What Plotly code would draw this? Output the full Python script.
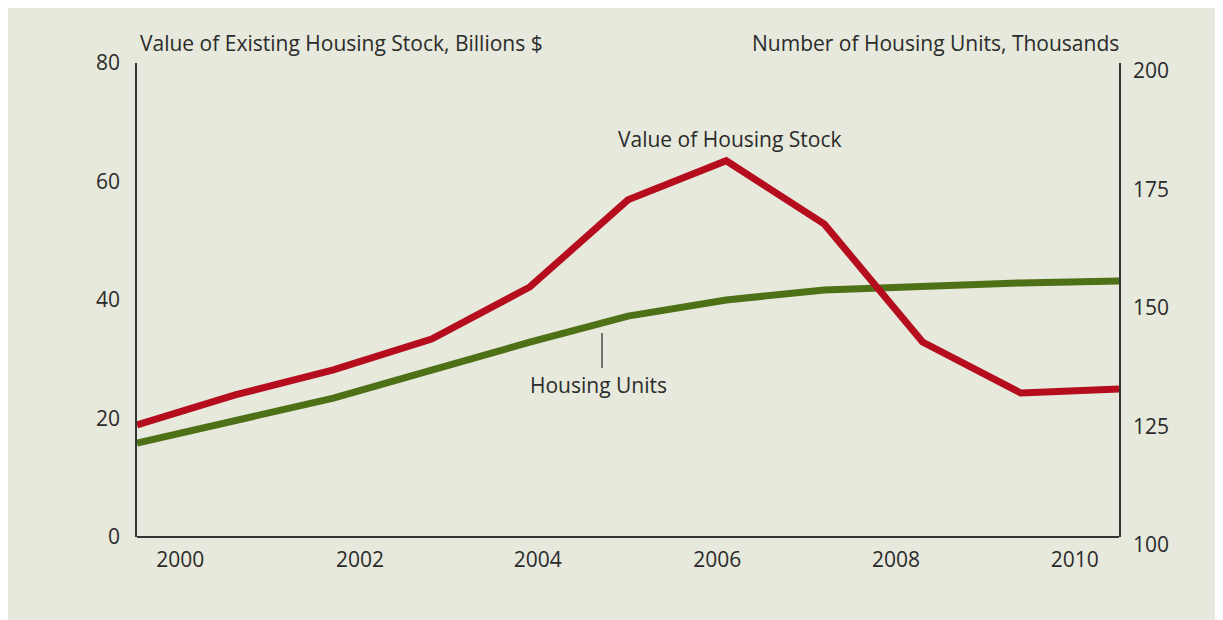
import plotly.graph_objects as go

# ---- data ----
years = [2000, 2001, 2002, 2003, 2004, 2005, 2006, 2007, 2008, 2009, 2010]
stock_value = [18.9, 24.0, 28.2, 33.4, 42.2, 56.9, 63.5, 52.8, 32.9, 24.3, 25.0]
housing_units = [121.5, 126.2, 131.0, 136.9, 142.8, 148.3, 151.7, 153.8, 154.6, 155.3, 155.7]
x_tick_labels = ["2000", "2002", "2004", "2006", "2008", "2010"]
x_tick_pos = [2000.44, 2002.27, 2004.08, 2005.91, 2007.73, 2009.55]
left_ticks = [0, 20, 40, 60, 80]
right_ticks = [100, 125, 150, 175, 200]

OFF = 8  # page offset of the figure (body margin)
W, H = 1208, 612
ML, MR, MT, MB = 129, 97, 55, 75
PW, PH = W - ML - MR, H - MT - MB

def px(x):  # page pixel -> paper fraction
    return (x - OFF - ML) / PW

def py(y):
    return (H - MB - (y - OFF)) / PH

PANEL = "#E6E9DC"
TEXT = "#2b2b2b"
FONT = "Open Sans"
FS = 21

fig = go.Figure()
# green first (drawn underneath), red on top
fig.add_trace(go.Scatter(x=years, y=housing_units, mode="lines",
                         line=dict(color="#4E7016", width=7),
                         xaxis="x", yaxis="y", hoverinfo="x+y"))
fig.add_trace(go.Scatter(x=years, y=stock_value, mode="lines",
                         line=dict(color="#B50D1E", width=7),
                         xaxis="x", yaxis="y2", hoverinfo="x+y"))

fig.update_layout(
    width=W, height=H,
    margin=dict(l=ML, r=MR, t=MT, b=MB),
    paper_bgcolor=PANEL,
    plot_bgcolor="rgba(0,0,0,0)",
    showlegend=False,
    font=dict(family=FONT, size=FS, color=TEXT),
    xaxis=dict(range=[2000, 2010], tickvals=x_tick_pos, ticktext=x_tick_labels,
               showgrid=False, zeroline=False, showline=True, linecolor="#333",
               linewidth=1.5, ticks="", ticklabelstandoff=4,
               tickfont=dict(size=FS, color=TEXT), anchor="free", position=8 / PH),
    yaxis=dict(range=[100, 200], tickvals=right_ticks, domain=[0, 1 - 8 / PH],
               anchor="free", position=1, side="right",
               showgrid=False, zeroline=False, showline=False, ticks="",
               ticklabelstandoff=13, tickfont=dict(size=FS, color=TEXT)),
    yaxis2=dict(range=[0, 80], tickvals=left_ticks, domain=[8 / PH, 1],
                showgrid=False, zeroline=False, showline=True, mirror=True,
                linecolor="#333", linewidth=1.5, ticks="", ticklabelstandoff=11,
                tickfont=dict(size=FS, color=TEXT), anchor="x", side="left"),
)

fig.add_shape(type="line", xref="paper", yref="paper",
              x0=px(602), x1=px(602), y0=py(368), y1=py(333),
              line=dict(color="#222", width=1.2))

anns = [
    dict(text="Value of Existing Housing Stock, Billions $", x=px(138), y=py(43), xanchor="left"),
    dict(text="Number of Housing Units, Thousands", x=px(1121), y=py(43), xanchor="right"),
    dict(text="Value of Housing Stock", x=px(730), y=py(139), xanchor="center"),
    dict(text="Housing Units", x=px(598), y=py(385), xanchor="center"),
]
for a in anns:
    fig.add_annotation(xref="paper", yref="paper", showarrow=False, yanchor="middle",
                       font=dict(size=FS, color=TEXT, family=FONT), **a)

fig.write_html("out.html")
